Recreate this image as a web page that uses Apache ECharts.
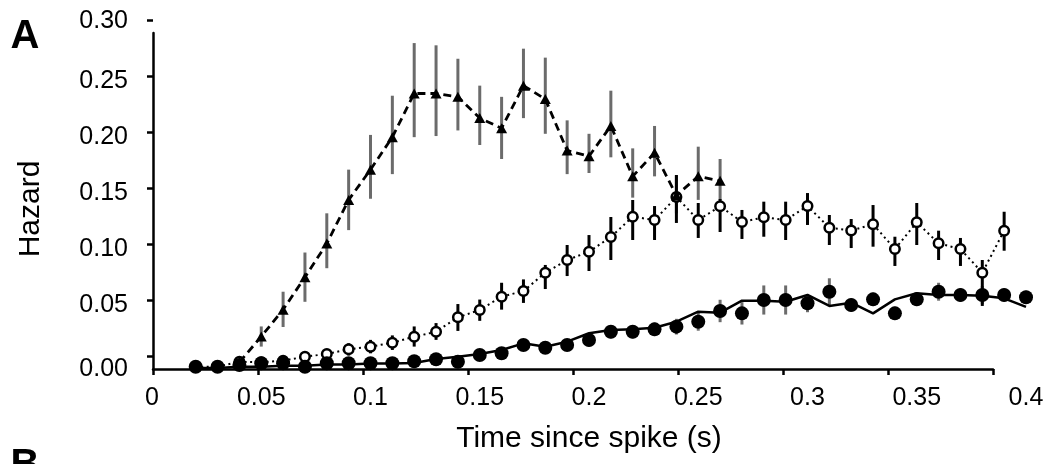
<!DOCTYPE html>
<html>
<head>
<meta charset="utf-8">
<script src="https://cdn.jsdelivr.net/npm/echarts@6/dist/echarts.min.js"></script>
<style>
  html, body { margin: 0; padding: 0; background: #fff; }
  #chart { width: 1056px; height: 464px; }
</style>
</head>
<body>
<div id="chart"></div>
<script>
// ---- Data ----
const timeS = [0.02,0.03,0.04,0.05,0.06,0.07,0.08,0.09,0.10,0.11,0.12,0.13,0.14,0.15,0.16,0.17,0.18,0.19,0.20,0.21,0.22,0.23,0.24,0.25,0.26,0.27,0.28,0.29,0.30,0.31,0.32,0.33,0.34,0.35,0.36,0.37,0.38,0.39,0.40];

// triangles, dashed line (t = 0.04 .. 0.26)
const triTime   = [0.04,0.05,0.06,0.07,0.08,0.09,0.10,0.11,0.12,0.13,0.14,0.15,0.16,0.17,0.18,0.19,0.20,0.21,0.22,0.23,0.24,0.25,0.26];
const triHazard = [0.006,0.029,0.053,0.082,0.112,0.151,0.178,0.207,0.246,0.246,0.243,0.224,0.215,0.253,0.241,0.195,0.190,0.217,0.172,0.193,0.155,0.172,0.168];
const triLow    = [0.006,0.020,0.0375,0.060,0.090,0.124,0.152,0.174,0.207,0.208,0.213,0.200,0.1875,0.224,0.210,0.174,0.175,0.189,0.153,0.172,0.139,0.151,0.151];
const triHigh   = [0.006,0.038,0.069,0.104,0.139,0.178,0.209,0.244,0.291,0.289,0.277,0.253,0.243,0.286,0.278,0.222,0.210,0.2485,0.197,0.217,0.173,0.1985,0.1875];

// open circles, dotted line (t = 0.02 .. 0.39)
const openHazard = [0.002,0.002,0.0065,0.006,0.0074,0.011,0.0134,0.0176,0.0199,0.0235,0.0288,0.0333,0.0462,0.0527,0.0646,0.0696,0.086,0.0973,0.1047,0.1179,0.136,0.133,0.1536,0.133,0.1453,0.1313,0.1354,0.133,0.1455,0.1262,0.1237,0.1292,0.1071,0.131,0.1122,0.1071,0.086,0.1235];
const openLow    = [0.001,0.001,0.005,0.004,0.005,0.007,0.009,0.012,0.014,0.017,0.020,0.026,0.034,0.043,0.053,0.059,0.0714,0.083,0.0875,0.0973,0.1152,0.1152,0.1304,0.117,0.1223,0.1161,0.1181,0.1152,0.1286,0.1107,0.108,0.1092,0.092,0.1107,0.0973,0.092,0.0563,0.1056];
const openHigh   = [0.003,0.003,0.008,0.008,0.010,0.015,0.018,0.023,0.026,0.030,0.038,0.041,0.058,0.062,0.077,0.080,0.0929,0.1107,0.1196,0.1357,0.1509,0.1455,0.1732,0.1482,0.1518,0.142,0.1494,0.1494,0.1571,0.1375,0.1339,0.1464,0.1181,0.1482,0.1235,0.117,0.0973,0.1404];

// filled circles (t = 0.02 .. 0.40)
const filledHazard = [0.002,0.002,0.0036,0.0051,0.0051,0.002,0.0051,0.0051,0.0051,0.0051,0.0069,0.0087,0.0065,0.0125,0.014,0.0214,0.019,0.0214,0.0259,0.0333,0.0333,0.0354,0.0378,0.0422,0.0518,0.0497,0.0616,0.0616,0.0587,0.069,0.0571,0.0622,0.0497,0.0622,0.069,0.0661,0.0661,0.0661,0.064];
const filledLow    = [0.000,0.000,0.0016,0.0031,0.0031,0.000,0.0031,0.0031,0.0031,0.0031,0.0049,0.0067,0.0045,0.0085,0.010,0.0174,0.015,0.0174,0.0199,0.0273,0.0273,0.0294,0.0308,0.0342,0.0418,0.0397,0.0486,0.0486,0.0507,0.057,0.0511,0.0562,0.0437,0.0562,0.061,0.0601,0.0581,0.0601,0.058];
const filledHigh   = [0.004,0.004,0.0056,0.0071,0.0071,0.004,0.0071,0.0071,0.0071,0.0071,0.0089,0.0107,0.0085,0.0165,0.018,0.0254,0.023,0.0254,0.0319,0.0393,0.0393,0.0414,0.0448,0.0502,0.0618,0.0597,0.0746,0.0746,0.0667,0.081,0.0631,0.0682,0.0557,0.0682,0.077,0.0721,0.0741,0.0721,0.070];

// solid line (fit) through filled circles
const fitHazard = [0.001,0.001,0.002,0.002,0.003,0.003,0.004,0.004,0.005,0.005,0.0054,0.0089,0.011,0.0134,0.017,0.0229,0.0199,0.0244,0.0319,0.0348,0.0354,0.0369,0.0422,0.0512,0.0503,0.061,0.061,0.0601,0.0661,0.0563,0.0592,0.0497,0.0622,0.0676,0.0661,0.0661,0.0654,0.0631,0.0554];

const xTickLabels = ['0','0.05','0.1','0.15','0.2','0.25','0.3','0.35','0.4'];
const yTickLabels = ['0.00','0.05','0.10','0.15','0.20','0.25','0.30'];

// ---- Build ----
const FONT = 'Liberation Sans, Arial, Helvetica, sans-serif';
const zip = (xs, ys) => xs.map((x, i) => [x, ys[i]]);
const zip3 = (xs, a, b) => xs.map((x, i) => [x, a[i], b[i]]);

function errRender(color, width) {
  return function (params, api) {
    const x = api.value(0);
    const p1 = api.coord([x, api.value(1)]);
    const p2 = api.coord([x, api.value(2)]);
    return {
      type: 'line',
      shape: { x1: p1[0], y1: p1[1], x2: p2[0], y2: p2[1] },
      style: { stroke: color, lineWidth: width }
    };
  };
}

const chart = echarts.init(document.getElementById('chart'), null, { renderer: 'canvas' });

const option = {
  animation: false,
  backgroundColor: '#ffffff',
  grid: [
    // 0: data grid (x labels follow this scale)
    { left: 152, right: 30, top: 33, bottom: 95 },
    // 1: drawn axis lines and x ticks
    { left: 153, right: 63, top: 33, bottom: 95 },
    // 2: y ticks and y labels
    { left: 153, right: 63, top: 20.7, bottom: 108 }
  ],
  xAxis: [
    {
      gridIndex: 0, type: 'value', min: 0, max: 0.4, interval: 0.05,
      axisLine: { show: false }, axisTick: { show: false }, splitLine: { show: false },
      axisLabel: {
        show: true, margin: 17, color: '#000', fontSize: 25, fontFamily: FONT,
        formatter: v => xTickLabels[Math.round(v / 0.05)]
      },
      name: 'Time since spike (s)', nameLocation: 'middle', nameGap: 55,
      nameTextStyle: { color: '#000', fontSize: 30, fontFamily: FONT }
    },
    {
      gridIndex: 1, type: 'value', min: 0, max: 0.4, interval: 0.05,
      axisLine: { show: true, lineStyle: { color: '#000', width: 2.5 } },
      axisTick: { show: true, inside: false, length: 6, lineStyle: { color: '#000', width: 2.5 } },
      axisLabel: { show: false }, splitLine: { show: false }
    },
    { gridIndex: 2, type: 'value', min: 0, max: 1, show: false }
  ],
  yAxis: [
    { gridIndex: 0, type: 'value', min: 0, max: 0.3, show: false },
    {
      gridIndex: 1, type: 'value', min: 0, max: 0.3, interval: 0.05,
      axisLine: { show: true, lineStyle: { color: '#000', width: 2.5 } },
      axisTick: { show: false }, axisLabel: { show: false }, splitLine: { show: false }
    },
    {
      gridIndex: 2, type: 'value', min: 0, max: 0.3, interval: 0.05,
      axisLine: { show: false },
      axisTick: { show: true, inside: false, length: 6, lineStyle: { color: '#000', width: 2.5 } },
      splitLine: { show: false },
      axisLabel: {
        show: true, margin: 25, color: '#000', fontSize: 25, fontFamily: FONT,
        formatter: v => {
          const i = Math.round(v / 0.05);
          const t = yTickLabels[i];
          if (i === 0) return '{z|' + t + '}';
          if (i === 6) return '{t|' + t + '}';
          return '{n|' + t + '}';
        },
        rich: {
          z: { color: '#000', fontSize: 25, fontFamily: FONT, padding: [26, 0, 0, 0] },
          n: { color: '#000', fontSize: 25, fontFamily: FONT, padding: [10, 0, 0, 0] },
          t: { color: '#000', fontSize: 25, fontFamily: FONT }
        }
      }
    }
  ],
  graphic: [
    { type: 'text', x: 25, y: 37, style: { text: 'A', fill: '#000', font: 'bold 40px ' + FONT, textAlign: 'center', textVerticalAlign: 'middle' } },
    { type: 'text', x: 25, y: 466, style: { text: 'B', fill: '#000', font: 'bold 40px ' + FONT, textAlign: 'center', textVerticalAlign: 'middle' } },
    { type: 'text', x: 31, y: 209, rotation: Math.PI / 2, style: { text: 'Hazard', fill: '#000', font: '30px ' + FONT, textAlign: 'center', textVerticalAlign: 'middle' } }
  ],
  series: [
    {
      type: 'custom', name: 'filled err', xAxisIndex: 0, yAxisIndex: 0,
      renderItem: errRender('#6b6b6b', 3),
      encode: { x: 0, y: [1, 2] },
      data: zip3(timeS, filledLow, filledHigh), z: 1
    },
    {
      type: 'custom', name: 'triangle err', xAxisIndex: 0, yAxisIndex: 0,
      renderItem: errRender('#6b6b6b', 3),
      encode: { x: 0, y: [1, 2] },
      data: zip3(triTime, triLow, triHigh), z: 1
    },
    {
      type: 'custom', name: 'open err', xAxisIndex: 0, yAxisIndex: 0,
      renderItem: errRender('#000', 3),
      encode: { x: 0, y: [1, 2] },
      data: zip3(timeS.slice(0, openHazard.length), openLow, openHigh), z: 2
    },
    {
      type: 'line', name: 'fit', xAxisIndex: 0, yAxisIndex: 0,
      data: zip(timeS, fitHazard), showSymbol: false, symbol: 'none',
      lineStyle: { color: '#000', width: 2.5 }, z: 3
    },
    {
      type: 'line', name: 'open', xAxisIndex: 0, yAxisIndex: 0,
      data: zip(timeS.slice(0, openHazard.length), openHazard),
      symbol: 'circle', symbolSize: 9.5, showAllSymbol: true,
      itemStyle: { color: '#fff', borderColor: '#000', borderWidth: 2.5 },
      lineStyle: { color: '#000', width: 2, type: [2, 3.5] }, z: 4
    },
    {
      type: 'line', name: 'triangles', xAxisIndex: 0, yAxisIndex: 0,
      data: zip(triTime, triHazard),
      symbol: 'triangle', symbolSize: [11, 10], showAllSymbol: true,
      itemStyle: { color: '#000' },
      lineStyle: { color: '#000', width: 2.8, type: [8, 5] }, z: 5
    },
    {
      type: 'scatter', name: 'filled', xAxisIndex: 0, yAxisIndex: 0,
      data: zip(timeS, filledHazard),
      symbol: 'circle', symbolSize: 14,
      itemStyle: { color: '#000', opacity: 1 }, z: 6
    }
  ]
};

chart.setOption(option);
</script>
</body>
</html>
